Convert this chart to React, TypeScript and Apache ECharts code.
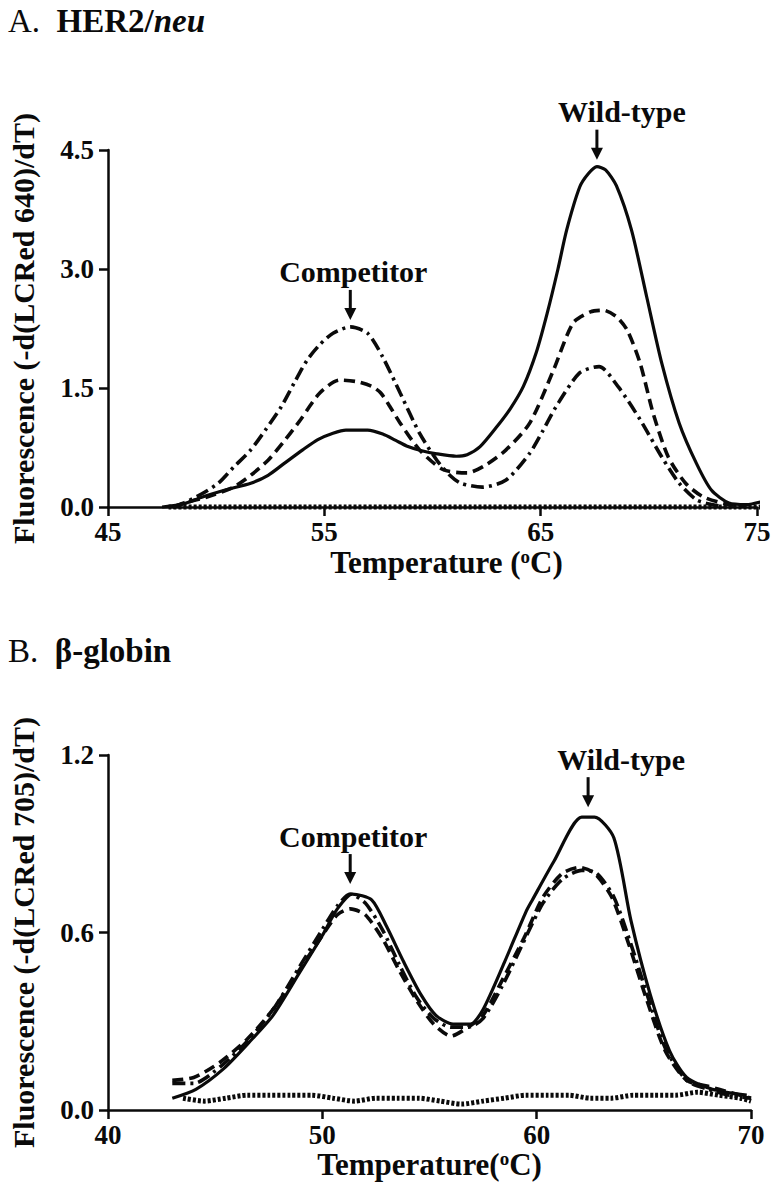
import React, { useEffect, useRef } from "react";
import * as echarts from "echarts";

// ---------- Panel A: HER2/neu ----------
const aSolidT = [47.5, 48.5, 49.3, 50.5, 51.6, 52.4, 53.1, 54.0, 54.7, 55.4, 56.0, 57.0, 57.7, 58.3, 58.8, 59.5, 60.2, 61.1, 61.6, 62.2, 63.0, 63.6, 64.2, 64.8, 65.3, 65.8, 66.2, 66.8, 67.2, 67.6, 68.0, 68.5, 69.2, 69.9, 70.6, 71.4, 72.2, 72.9, 73.7, 74.5, 75.4];
const aSolidF = [0.0, 0.04, 0.12, 0.22, 0.30, 0.40, 0.54, 0.72, 0.85, 0.93, 0.97, 0.97, 0.92, 0.84, 0.77, 0.71, 0.67, 0.64, 0.66, 0.76, 1.02, 1.24, 1.52, 1.95, 2.44, 3.00, 3.49, 4.03, 4.20, 4.29, 4.25, 4.05, 3.49, 2.65, 1.81, 1.06, 0.55, 0.21, 0.05, 0.03, 0.08];

const aDashT = [48.0, 48.5, 49.5, 50.8, 51.6, 52.4, 53.2, 53.9, 54.8, 55.7, 56.5, 57.2, 57.6, 58.0, 58.5, 59.4, 60.5, 61.6, 62.4, 63.4, 64.5, 65.6, 66.5, 67.3, 67.9, 68.5, 69.0, 69.6, 70.2, 70.9, 71.7, 72.5, 73.7, 74.5];
const aDashF = [0.0, 0.05, 0.12, 0.25, 0.40, 0.59, 0.85, 1.10, 1.44, 1.60, 1.58, 1.52, 1.44, 1.28, 1.06, 0.72, 0.47, 0.43, 0.52, 0.72, 1.06, 1.73, 2.32, 2.46, 2.48, 2.40, 2.23, 1.81, 1.18, 0.63, 0.30, 0.13, 0.03, 0.02];

const aDashDotT = [48.0, 48.5, 49.3, 50.1, 50.8, 51.6, 52.3, 53.0, 53.6, 54.2, 54.8, 55.4, 56.2, 57.0, 57.7, 58.5, 59.4, 60.2, 60.8, 61.3, 62.3, 63.4, 64.5, 65.1, 65.7, 66.8, 67.7, 68.6, 69.6, 70.6, 71.4, 72.2, 72.9, 73.6];
const aDashDotF = [0.0, 0.05, 0.16, 0.30, 0.50, 0.72, 0.98, 1.26, 1.56, 1.85, 2.05, 2.19, 2.27, 2.19, 1.89, 1.44, 0.93, 0.59, 0.40, 0.30, 0.25, 0.34, 0.68, 0.96, 1.26, 1.69, 1.77, 1.51, 1.10, 0.63, 0.30, 0.09, 0.03, 0.0];

const aDotT = [47.8, 50, 52, 54, 56, 58, 60, 62, 64, 66, 68, 70, 72, 74, 75.5];
const aDotF = [0.0, 0.0, 0.0, 0.0, 0.0, 0.0, 0.0, 0.0, 0.0, 0.0, 0.0, 0.0, 0.0, 0.0, 0.0];

const aXTicks = { min: 45, max: 75, interval: 10 };
const aYTicks = { min: 0, max: 4.5, interval: 1.5 };

// ---------- Panel B: beta-globin ----------
const bSolidT = [43.0, 44.1, 45.4, 46.6, 47.7, 48.9, 50.0, 50.7, 51.4, 52.3, 53.0, 53.8, 54.6, 55.3, 56.1, 56.9, 57.5, 58.5, 59.5, 59.8, 60.8, 62.1, 62.7, 63.6, 64.4, 65.3, 66.2, 67.0, 68.2, 69.8];
const bSolidF = [0.04, 0.07, 0.14, 0.23, 0.32, 0.46, 0.59, 0.68, 0.73, 0.71, 0.62, 0.50, 0.39, 0.32, 0.29, 0.29, 0.34, 0.50, 0.67, 0.71, 0.84, 0.99, 0.99, 0.92, 0.64, 0.39, 0.20, 0.11, 0.07, 0.05];

const bDashT = [43.0, 44.0, 45.2, 46.5, 47.7, 48.9, 50.0, 50.7, 51.3, 52.0, 52.8, 53.6, 54.4, 55.2, 56.0, 56.8, 57.5, 58.4, 59.4, 60.3, 61.2, 62.0, 62.7, 63.5, 64.3, 65.1, 66.0, 67.0, 68.0, 69.0, 70.0];
const bDashF = [0.10, 0.11, 0.16, 0.24, 0.34, 0.47, 0.59, 0.66, 0.68, 0.66, 0.58, 0.47, 0.37, 0.29, 0.25, 0.28, 0.32, 0.44, 0.58, 0.72, 0.80, 0.82, 0.80, 0.72, 0.56, 0.38, 0.20, 0.10, 0.08, 0.06, 0.04];

const bDashDotT = [43.0, 44.0, 45.3, 46.6, 47.8, 48.9, 50.0, 50.7, 51.3, 52.0, 52.8, 53.6, 54.4, 55.2, 56.0, 56.8, 57.5, 58.4, 59.4, 60.3, 61.2, 62.1, 62.8, 63.6, 64.4, 65.2, 66.0, 67.0, 68.0, 69.0, 70.0];
const bDashDotF = [0.09, 0.09, 0.15, 0.24, 0.35, 0.48, 0.61, 0.69, 0.73, 0.70, 0.61, 0.49, 0.38, 0.31, 0.28, 0.28, 0.31, 0.42, 0.57, 0.70, 0.78, 0.81, 0.80, 0.72, 0.56, 0.38, 0.21, 0.10, 0.07, 0.05, 0.04];

const bDotT = [43.5, 44.5, 45.5, 46.5, 47.5, 48.5, 49.5, 50.5, 51.5, 52.5, 53.5, 54.5, 55.5, 56.5, 57.5, 58.5, 59.5, 60.5, 61.5, 62.5, 63.5, 64.5, 65.5, 66.5, 67.5, 68.5, 69.5, 70.0];
const bDotF = [0.04, 0.03, 0.04, 0.05, 0.05, 0.05, 0.05, 0.04, 0.03, 0.04, 0.04, 0.04, 0.03, 0.02, 0.03, 0.04, 0.05, 0.05, 0.05, 0.04, 0.04, 0.05, 0.05, 0.05, 0.06, 0.05, 0.04, 0.03];

const bXTicks = { min: 40, max: 70, interval: 10 };
const bYTicks = { min: 0, max: 1.2, interval: 0.6 };

// Annotations: [panel, label, peak temperature, peak value, text shift]
const annotations: [number, string, number, number, number][] = [
  [0, "Competitor", 56.2, 2.27, 3],
  [0, "Wild-type", 67.6, 4.29, 25],
  [1, "Competitor", 51.3, 0.74, 3],
  [1, "Wild-type", 62.4, 1.0, 33],
];

const FONT = "'Liberation Serif', 'Times New Roman', Times, serif";
const INK = "#0a0a0a";

const pairs = (t: number[], f: number[]) => t.map((v, i) => [v, f[i]]);

const lineStyles = {
  solid: { type: "solid", width: 3.2 },
  dash: { type: [11, 6], width: 3.6 },
  dashdot: { type: [13, 5, 3, 5], width: 3.6 },
  dot: { type: [3, 2], width: 5 },
};

function makeSeries(idx: number, t: number[], f: number[], style: any, name: string) {
  return {
    type: "line",
    name,
    xAxisIndex: idx,
    yAxisIndex: idx,
    data: pairs(t, f),
    showSymbol: false,
    smooth: 0.25,
    clip: false,
    lineStyle: { color: INK, ...style },
  };
}

function xAxisDef(idx: number, ticks: any, nameGap: number, nameText: string, pad: number[]) {
  return {
    type: "value",
    gridIndex: idx,
    ...ticks,
    splitLine: { show: false },
    axisLine: { onZero: false, lineStyle: { color: INK, width: 2.5 } },
    axisTick: { show: true, length: 9, inside: false, lineStyle: { color: INK, width: 2.5 } },
    axisLabel: { color: INK, fontFamily: FONT, fontWeight: "bold", fontSize: 27, margin: 11 },
    name: nameText,
    nameLocation: "middle",
    nameGap,
    nameTextStyle: {
      color: INK,
      fontFamily: FONT,
      fontWeight: "bold",
      fontSize: 31,
      padding: pad,
      rich: {
        sup: { fontFamily: FONT, fontWeight: "bold", fontSize: 19, verticalAlign: "top", color: INK },
      },
    },
  };
}

function yAxisDef(idx: number, ticks: any, nameText: string) {
  return {
    type: "value",
    gridIndex: idx,
    ...ticks,
    splitLine: { show: false },
    axisLine: { show: true, lineStyle: { color: INK, width: 2.5 } },
    axisTick: { show: true, length: 9, inside: false, lineStyle: { color: INK, width: 2.5 } },
    axisLabel: {
      color: INK,
      fontFamily: FONT,
      fontWeight: "bold",
      fontSize: 27,
      margin: 14,
      formatter: (v: number) => v.toFixed(1),
    },
    name: nameText,
    nameLocation: "middle",
    nameGap: 70,
    nameTextStyle: { color: INK, fontFamily: FONT, fontWeight: "bold", fontSize: 30 },
  };
}

export default function App() {
  const ref = useRef<HTMLDivElement>(null);
  useEffect(() => {
    document.body.style.margin = "0";
    const chart = echarts.init(ref.current!, null, { renderer: "svg" });
    chart.setOption({
      animation: false,
      backgroundColor: "#ffffff",
      grid: [
        { left: 106, top: 150, width: 651, height: 357 },
        { left: 103, top: 755, width: 648, height: 355 },
      ],
      xAxis: [
        xAxisDef(0, aXTicks, 40, "Temperature ({sup|o}C)", [0, 0, 0, 28]),
        xAxisDef(1, bXTicks, 24, "Temperature({sup|o}C)", [0, 0, 0, 0]),
      ],
      yAxis: [
        yAxisDef(0, aYTicks, "Fluorescence (-d(LCRed 640)/dT)"),
        yAxisDef(1, bYTicks, "Fluorescence (-d(LCRed 705)/dT)"),
      ],
      series: [
        makeSeries(0, aDotT, aDotF, lineStyles.dot, "A no template"),
        makeSeries(0, aSolidT, aSolidF, lineStyles.solid, "A solid"),
        makeSeries(0, aDashT, aDashF, lineStyles.dash, "A dashed"),
        makeSeries(0, aDashDotT, aDashDotF, lineStyles.dashdot, "A dash-dot"),
        makeSeries(1, bDotT, bDotF, lineStyles.dot, "B no template"),
        makeSeries(1, bSolidT, bSolidF, lineStyles.solid, "B solid"),
        makeSeries(1, bDashT, bDashF, lineStyles.dash, "B dashed"),
        makeSeries(1, bDashDotT, bDashDotF, lineStyles.dashdot, "B dash-dot"),
      ],
    });

    const TS = 33;
    const titleRich = {
      n: { fontFamily: FONT, fontSize: TS, fontWeight: "normal", fill: INK },
      b: { fontFamily: FONT, fontSize: TS, fontWeight: "bold", fill: INK },
      bi: { fontFamily: FONT, fontSize: TS, fontWeight: "bold", fontStyle: "italic", fill: INK },
    };
    const graphics: any[] = [
      {
        type: "text",
        x: 8,
        y: 4,
        style: { text: "{n|A.}  {b|HER2/}{bi|neu}", rich: titleRich, fontFamily: FONT, fontSize: TS, fill: INK },
      },
      {
        type: "text",
        x: 8,
        y: 634,
        style: { text: "{n|B.}  {b|\u03b2-globin}", rich: titleRich, fontFamily: FONT, fontSize: TS, fill: INK },
      },
    ];
    annotations.forEach(([g, label, t, f, dx]) => {
      const p = chart.convertToPixel({ xAxisIndex: g, yAxisIndex: g }, [t, f]) as number[];
      const px = p[0];
      const tip = p[1] - 7;
      const top = tip - 30;
      graphics.push({
        type: "line",
        shape: { x1: px, y1: top, x2: px, y2: tip - 10 },
        style: { stroke: INK, lineWidth: 3 },
      });
      graphics.push({
        type: "polygon",
        shape: { points: [[px - 6, tip - 12], [px + 6, tip - 12], [px, tip]] },
        style: { fill: INK },
      });
      graphics.push({
        type: "text",
        x: px + dx,
        y: top - 3,
        style: {
          text: label,
          fontFamily: FONT,
          fontWeight: "bold",
          fontSize: 30,
          fill: INK,
          textAlign: "center",
          textVerticalAlign: "bottom",
        },
      });
    });
    chart.setOption({ graphic: graphics });

    return () => chart.dispose();
  }, []);
  return <div ref={ref} style={{ width: 778, height: 1200 }} />;
}
